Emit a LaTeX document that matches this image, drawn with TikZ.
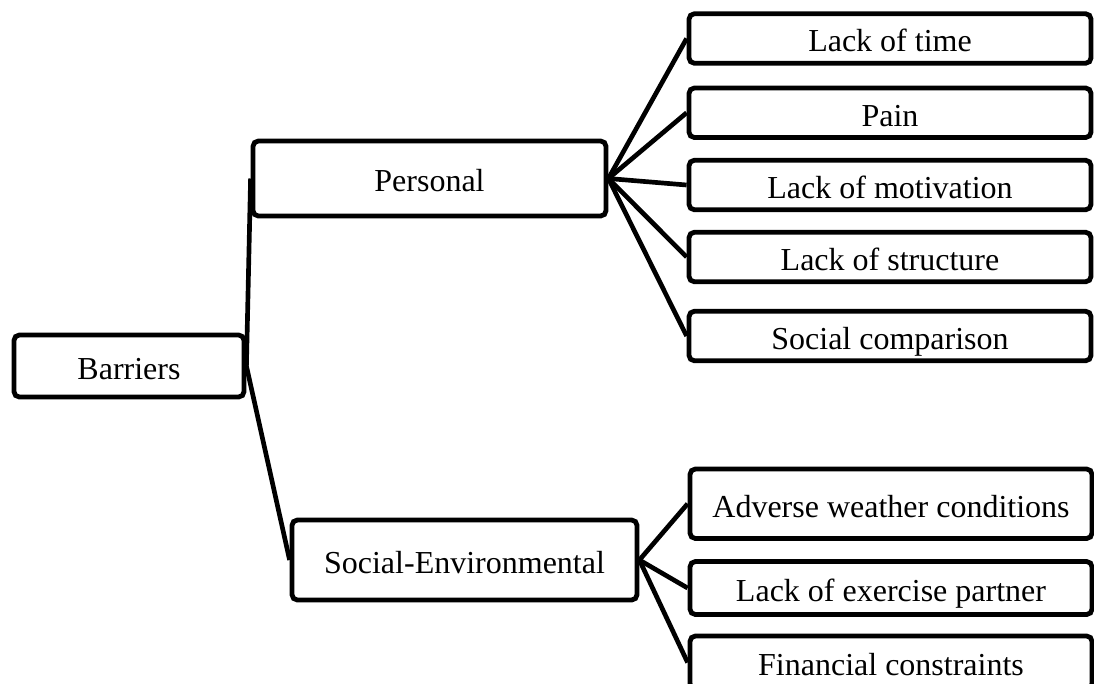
\documentclass[tikz,border=0pt]{standalone}
\usepackage{fontspec}
\setmainfont{Liberation Serif}
\pgfdeclarelayer{background}
\pgfsetlayers{background,main}
\begin{document}
\begin{tikzpicture}[x=0.75pt,y=-0.75pt,
  box/.style={draw=black, line width=3.6pt, rounded corners=4pt, fill=white,
    inner sep=0pt, align=center, font=\fontsize{24}{28}\selectfont,
    text height=20pt, text depth=0pt},
  leaf/.style={box, minimum width=402*0.75pt, minimum height=49.5*0.75pt},
  link/.style={draw=black, line width=3.5pt}]
\useasboundingbox (0,0) rectangle (1094,683);

% root and the two categories
\node[box, minimum width=230*0.75pt, minimum height=62*0.75pt] (barriers) at (129,366) {Barriers};
\node[box, minimum width=353*0.75pt, minimum height=75*0.75pt] (personal) at (429.5,178.5) {Personal};
\node[box, minimum width=345*0.75pt, minimum height=80*0.75pt] (socenv) at (464.5,560) {Social-Environmental};

% personal barriers
\node[leaf] (time) at (890,38.5) {Lack of time};
\node[leaf] (pain) at (890,112.75) {Pain};
\node[leaf] (motiv) at (890,185) {Lack of motivation};
\node[leaf] (struct) at (890,257) {Lack of structure};
\node[leaf] (compare) at (890,336) {Social comparison};

% social-environmental barriers
\node[leaf, minimum height=69.5*0.75pt] (weather) at (891,503.75) {Adverse weather conditions};
\node[leaf, minimum height=53*0.75pt] (partner) at (891,588) {Lack of exercise partner};
\node[leaf, minimum height=53*0.75pt] (finance) at (891,662.5) {Financial constraints};

% connectors, drawn behind the boxes
\begin{pgfonlayer}{background}
\draw[link] (barriers.east) -- (personal.west);
\draw[link] (barriers.east) -- (socenv.west);
\foreach \c in {time,pain,motiv,struct,compare}
  \draw[link] (personal.east) -- (\c.west);
\foreach \c in {weather,partner,finance}
  \draw[link] (socenv.east) -- (\c.west);
\end{pgfonlayer}
\end{tikzpicture}
\end{document}
